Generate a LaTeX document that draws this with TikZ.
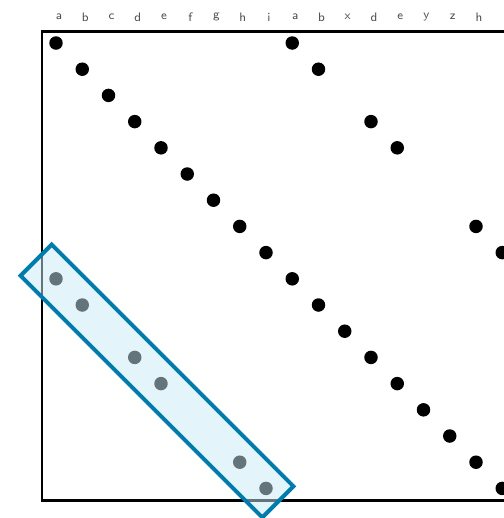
\documentclass[tikz,border=0pt]{standalone}
\usepackage{tikz}
\usetikzlibrary{positioning}
\definecolor{boxblue}{RGB}{0,124,172}
\definecolor{boxfill}{RGB}{200,233,247}

\begin{document}
\begin{tikzpicture}[
    x=0.02cm, y=-0.02cm,
    dot/.style={circle, fill=black, inner sep=0pt, minimum size=0.27cm},
    lbl/.style={font=\sffamily\fontsize{7}{8}\selectfont, text=black!70, inner sep=0pt},
    matchbox/.style={rectangle, draw=boxblue, line width=0.08cm, fill=boxfill, fill opacity=0.5, draw opacity=1, minimum width=6.84cm, minimum height=0.88cm, rotate=-45}
]
    \useasboundingbox (0,0) rectangle (504,518);
    \clip (0,0) rectangle (504,518);

    % Frame
    \draw[line width=0.06cm] (42,31) rectangle (560,500);

    % Sequence labels
    \foreach \ch [count=\i from 0] in {a,b,c,d,e,f,g,h,i,a,b,x,d,e,y,z,h,i}
        \node[lbl] (t\i) at ({59+26.25*\i},17) {\ch};

    % Main diagonal
    \foreach \i in {0,...,17}
        \node[dot] (m\i) at ({56+26.25*\i},{43+26.2*\i}) {};

    % Repeat above the diagonal
    \foreach \r/\c in {0/9,1/10,3/12,4/13,7/16,8/17}
        \node[dot] (u\r) at ({56+26.25*\c},{43+26.2*\r}) {};

    % Repeat below the diagonal
    \foreach \r/\c in {9/0,10/1,12/3,13/4,16/7,17/8}
        \node[dot] (l\c) at ({56+26.25*\c},{43+26.2*\r}) {};

    % Highlighted repeat
    \node[matchbox] (sel) at (157,381) {};
\end{tikzpicture}
\end{document}
